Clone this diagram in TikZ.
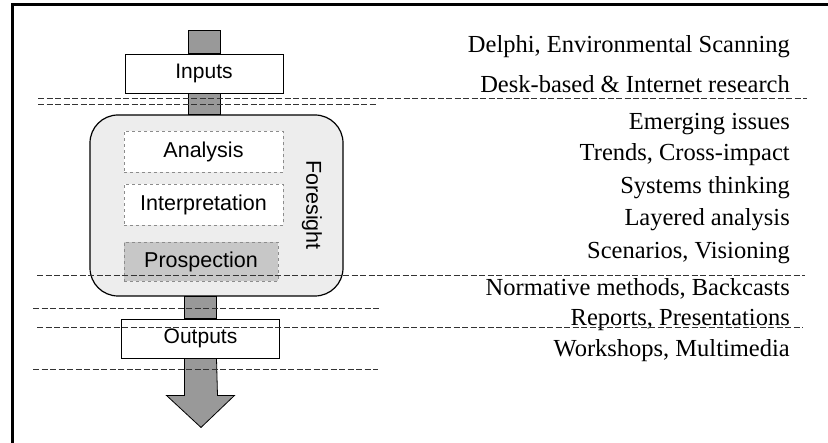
\documentclass[tikz,border=0pt]{standalone}
\usepackage{fontspec}
\setmainfont{Liberation Serif}
\setsansfont{Liberation Sans}
\usetikzlibrary{positioning}

\begin{document}
\begin{tikzpicture}[x=1pt,y=-1pt,
    stage/.style={rectangle,draw=black!45,dashed,inner sep=0pt,minimum width=159pt,minimum height=41pt,font=\sffamily\fontsize{21.5}{24}\selectfont},
    io/.style={rectangle,draw,fill=white,line width=0.9pt,inner sep=0pt,minimum width=158pt,minimum height=39pt,font=\sffamily\fontsize{21}{24}\selectfont},
    stem/.style={draw,line width=0.8pt,fill=black!40},
    method/.style={anchor=east,inner sep=0pt,font=\fontsize{24.5}{28}\selectfont},
    sep/.style={draw=black!80,dash pattern=on 6pt off 2.5pt,line width=0.9pt}]
    \useasboundingbox (0,0) rectangle (828,443);
    \draw [line width=3pt] (12,443) -- (12,5) -- (828,5);

    \node [rectangle,draw,line width=1.2pt,rounded corners=28pt,fill=black!7,minimum width=253pt,minimum height=181pt] (foresight) at (216.5,205.5) {};
    \node [stage,fill=white] (analysis) at (203.5,152) {Analysis};
    \node [stage,fill=white] (interp) at (203.5,205) {Interpretation};
    \node [stage,fill=black!22,minimum width=154pt,minimum height=39pt] (prosp) at (201,261.5) {Prospection};
    \node [rotate=-90,font=\sffamily\fontsize{21.5}{24}\selectfont] (flabel) at (312,205) {Foresight};

    \coordinate (intop) at (204,30);
    \node [io] (inputs) at (204,73.5) {Inputs};
    \node [io] (outputs) at (200.5,338.5) {Outputs};
    \path (inputs.south |- foresight.north) coordinate (in2);
    \path (outputs.north |- foresight.south) coordinate (out2);

    \draw [stem] ([xshift=-16pt]intop) rectangle ([xshift=16pt]inputs.north);
    \draw [stem] ([xshift=-16pt]inputs.south) rectangle ([xshift=16pt]in2);
    \draw [stem] ([xshift=-16pt]out2) rectangle ([xshift=16pt]outputs.north);
    \draw [stem] ([xshift=-16pt]outputs.south) -- ++(0,37) -- ++(-18,0) -- ++(34.5,32) -- ++(33.5,-32) -- ++(-17,0) -- ([xshift=16pt]outputs.south) -- cycle;
    \node [io] at (inputs) {Inputs};
    \node [io] at (outputs) {Outputs};

    \node [method] (m1) at (790,47) {Delphi, Environmental Scanning};
    \node [method] (m2) at (790,84) {Desk-based \& Internet research};
    \node [method] (m3) at (790,124) {Emerging issues};
    \node [method] (m4) at (790,155) {Trends, Cross-impact};
    \node [method] (m5) at (790,188) {Systems thinking};
    \node [method] (m6) at (790,220) {Layered analysis};
    \node [method] (m7) at (790,253) {Scenarios, Visioning};
    \node [method] (m8) at (790,289) {Normative methods, Backcasts};
    \node [method] (m9) at (790,320) {Reports, Presentations};
    \node [method] (m10) at (790,351) {Workshops, Multimedia};

    \draw [sep] (38,98) -- (807,98);
    \draw [sep] (38,104) -- (377,104);
    \draw [sep] (37,275) -- (805,275);
    \draw [sep] (33,308) -- (380,308);
    \draw [sep] (37,327) -- (803,327);
    \draw [sep] (33,369) -- (378,369);
\end{tikzpicture}
\end{document}
